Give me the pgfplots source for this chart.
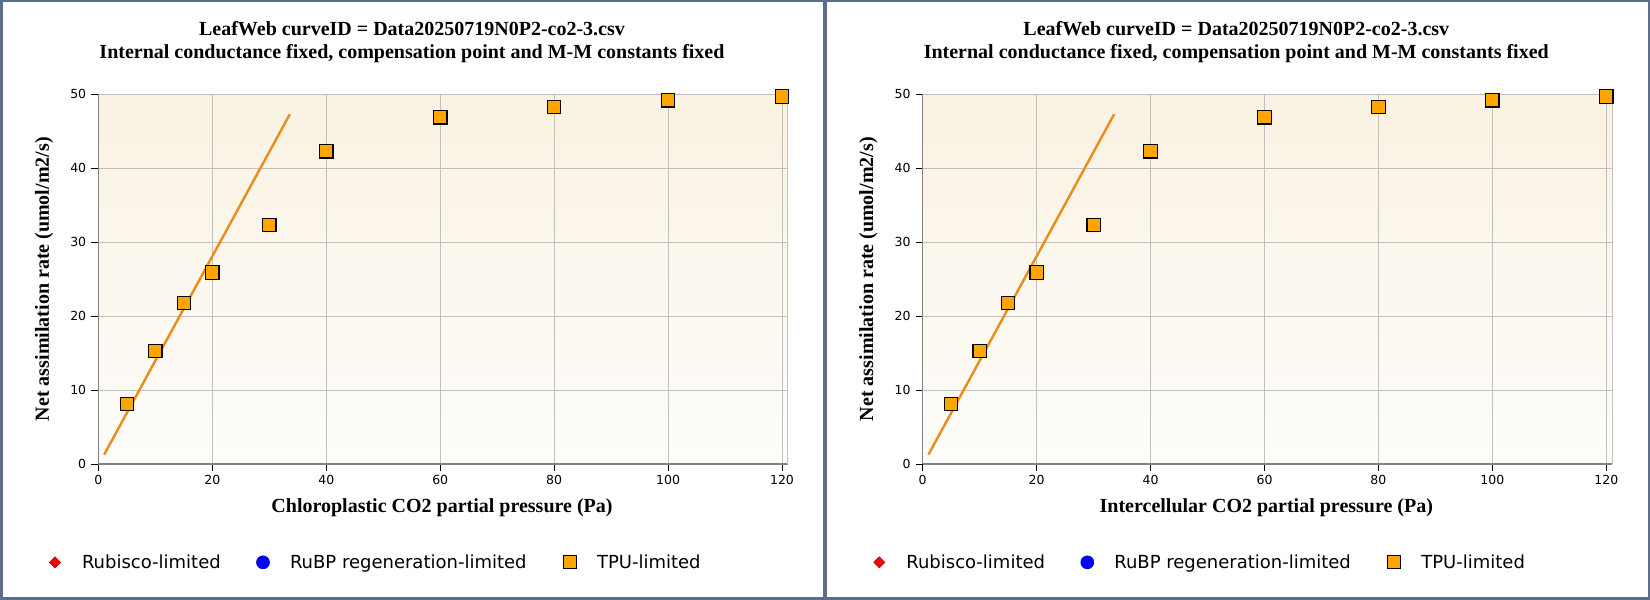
\documentclass[border=0pt]{standalone}
\usepackage{pgfplots}
\usepackage{pgfplotstable}
\pgfplotsset{compat=1.18}
\usepackage{fontspec}
\setmainfont{Liberation Serif}
\newfontfamily\dejavu{DejaVu Sans}
\definecolor{framec}{RGB}{91,111,140}
\definecolor{bgtop}{RGB}{250,242,226}
\definecolor{bgbot}{RGB}{254,253,251}
\definecolor{lineor}{RGB}{235,140,25}
\definecolor{sqor}{RGB}{255,165,0}
\definecolor{gridc}{RGB}{192,192,192}
\definecolor{axc}{RGB}{130,130,130}

\pgfplotstableread{
x y
5 8.1
10 15.3
15 21.8
20 25.9
30 32.3
40 42.3
60 46.9
80 48.3
100 49.2
120 49.7
}\tpu
\pgfplotstableread{
x y
1 1.26
33.6 47.3
}\fitline

\pgfplotsset{
 leafstyle/.style={
  scale only axis, width=689.3pt, height=369.7pt,
  xmin=0, xmax=121, ymin=0, ymax=50,
  xtick={0,20,...,120}, ytick={0,10,...,50},
  axis lines*=left,
  axis line style={axc, line width=1.2pt},
  tick align=outside, major tick length=7pt,
  tick style={black, line width=1pt},
  grid=major, major grid style={gridc, line width=0.9pt},
  extra x ticks={121}, extra x tick labels={},
  extra x tick style={major tick length=0pt, grid=major},
  axis background/.style={top color=bgtop, bottom color=bgbot},
  clip=false,
  /pgf/number format/assume math mode=true,
  tick label style={font=\dejavu\fontsize{12.5}{14}\selectfont},
  xticklabel style={inner sep=0pt, yshift=-4pt},
  yticklabel style={inner sep=0pt, xshift=-5pt},
  xlabel style={at={(axis description cs:0.4985,-0.1325)}, anchor=base, font=\bfseries\fontsize{20}{24}\selectfont},
  ylabel style={at={(axis description cs:-0.079,0.5)}, anchor=center, font=\bfseries\fontsize{20}{24}\selectfont},
  ylabel={Net assimilation rate (umol/m2/s)},
  legend columns=3,
  legend style={draw=none, fill=none, at={(axis description cs:-0.0731,-0.2705)}, anchor=west,
    inner sep=0pt, outer sep=0pt, column sep=0pt,
    font=\dejavu\fontsize{18}{22}\selectfont,
    cells={anchor=base west, inner sep=0pt}},
 },
 mylegimg/.style={legend image code/.code={\path[draw=none, fill=none] (-7pt,-6pt) rectangle (25pt,14pt); \draw[##1] plot coordinates {(0pt,6.5pt)};}},
}

\newcommand{\leafpanel}[1]{%
  \addplot[lineor, line width=2.4pt, no markers, forget plot] table[x=x,y=y] {\fitline};
  \addplot[only marks, mark=square*, mark size=6.7pt, mark options={fill=sqor, draw=black, line width=1.2pt}, forget plot] table[x=x,y=y] {\tpu};
  \addlegendimage{mylegimg, only marks, mark=square*, mark size=3.9pt, mark options={rotate=45, fill=red, draw=red!70!black, line width=0.6pt}}
  \addlegendentry{\makebox[172pt][l]{Rubisco-limited}}
  \addlegendimage{mylegimg, only marks, mark=*, mark size=6.5pt, mark options={fill=blue, draw=blue!80!black, line width=0.6pt}}
  \addlegendentry{\makebox[271pt][l]{RuBP regeneration-limited}}
  \addlegendimage{mylegimg, only marks, mark=square*, mark size=6.5pt, mark options={fill=sqor, draw=black, line width=1.2pt}}
  \addlegendentry{TPU-limited}
}

\begin{document}
\begin{tikzpicture}
\useasboundingbox (0,0) rectangle (1650pt,600pt);
\fill[framec] (0,0) rectangle (1650pt,600pt);
\fill[white] (2.5pt,2.7pt) rectangle (822.7pt,598pt);
\fill[white] (826.7pt,2.7pt) rectangle (1647.5pt,598pt);

\foreach \ox in {0,824.3}{
  \node[anchor=base, font=\bfseries\fontsize{20}{24}\selectfont] at ({412pt+\ox pt},564pt) {LeafWeb curveID = Data20250719N0P2-co2-3.csv};
  \node[anchor=base, font=\bfseries\fontsize{20}{24}\selectfont] at ({412pt+\ox pt},541pt) {Internal conductance fixed, compensation point and M-M constants fixed};
}

\begin{axis}[leafstyle, at={(98.4pt,136pt)}, anchor=origin, xlabel={Chloroplastic CO2 partial pressure (Pa)}]
\leafpanel{}
\end{axis}

\begin{axis}[leafstyle, at={(922.7pt,136pt)}, anchor=origin, xlabel={Intercellular CO2 partial pressure (Pa)}]
\leafpanel{}
\end{axis}
\end{tikzpicture}
\end{document}
